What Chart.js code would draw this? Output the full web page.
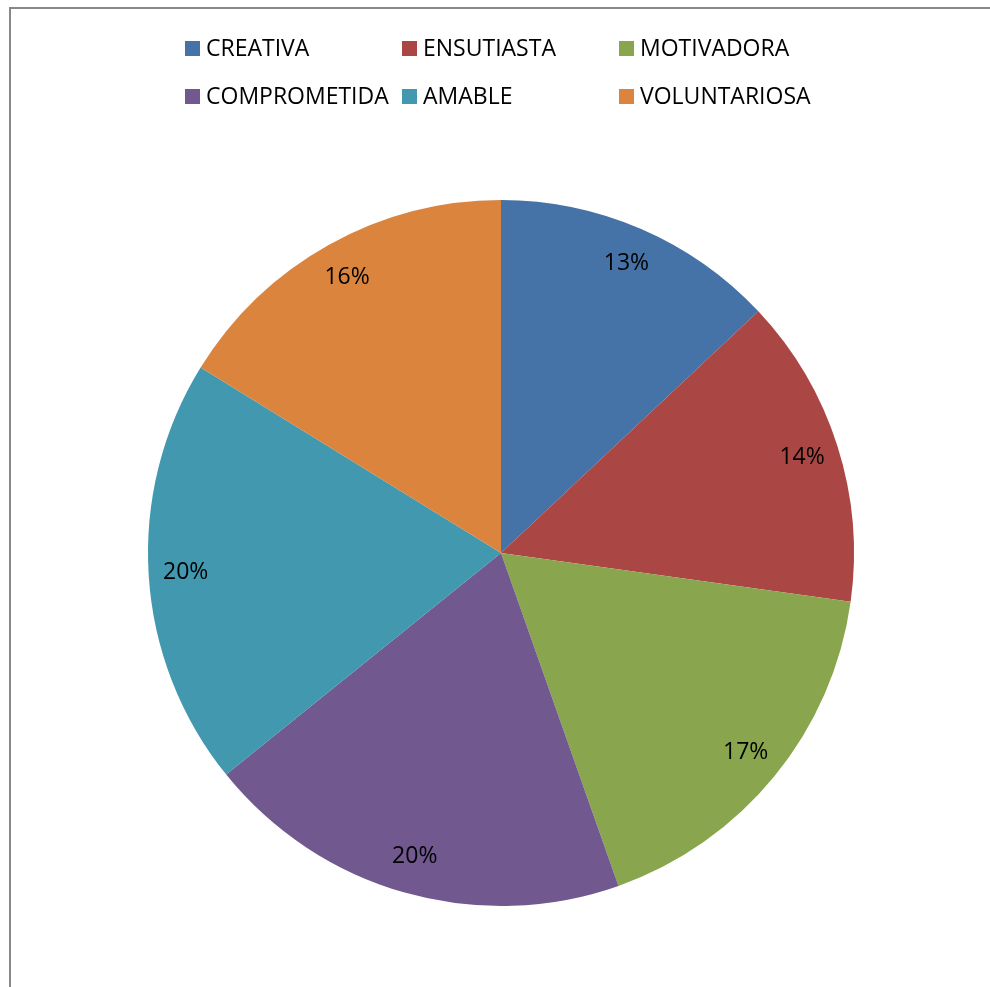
<!DOCTYPE html>
<html>
<head>
<meta charset="utf-8">
<title>Cualidades</title>
<script src="https://cdn.jsdelivr.net/npm/chart.js@4/dist/chart.umd.min.js"></script>
<style>
  html, body { margin: 0; padding: 0; background: #fff; }
  canvas { display: block; }
</style>
</head>
<body>
<canvas id="pie" width="990" height="987"></canvas>
<script>
// categories and their share of answers
const labels = ['CREATIVA', 'ENSUTIASTA', 'MOTIVADORA', 'COMPROMETIDA', 'AMABLE', 'VOLUNTARIOSA'];
const values = [13.0, 14.2, 17.4, 19.6, 19.6, 16.2];
const colors = ['#4572A7', '#AA4643', '#89A54E', '#71588F', '#4198AF', '#DB843D'];

const FONT = '23px "Open Sans", sans-serif';

// white page with the grey frame on the left and top
const frame = {
  id: 'frame',
  beforeDraw(chart) {
    const ctx = chart.ctx;
    ctx.save();
    ctx.fillStyle = '#fff';
    ctx.fillRect(0, 0, chart.width, chart.height);
    ctx.strokeStyle = '#888888';
    ctx.lineWidth = 2;
    ctx.beginPath();
    ctx.moveTo(10, chart.height);
    ctx.lineTo(10, 8);
    ctx.lineTo(chart.width, 8);
    ctx.stroke();
    ctx.restore();
  }
};

// legend in a 3 x 2 grid above the pie
const gridLegend = {
  id: 'gridLegend',
  afterDraw(chart) {
    const ctx = chart.ctx;
    const ds = chart.data.datasets[0];
    ctx.save();
    ctx.font = FONT;
    ctx.textBaseline = 'alphabetic';
    ctx.textAlign = 'left';
    chart.data.labels.forEach((name, i) => {
      const col = i % 3, row = Math.floor(i / 3);
      const x = 185 + col * 217;
      const base = 56 + row * 48;
      ctx.fillStyle = ds.backgroundColor[i];
      ctx.fillRect(x, base - 15, 15, 15);
      ctx.fillStyle = '#000';
      ctx.fillText(name, x + 21, base);
    });
    ctx.restore();
  }
};

// percentage labels near the outer edge of each slice
const pctLabels = {
  id: 'pctLabels',
  afterDatasetsDraw(chart) {
    const ctx = chart.ctx;
    const data = chart.data.datasets[0].data;
    const total = data.reduce((a, b) => a + b, 0);
    const meta = chart.getDatasetMeta(0);
    ctx.save();
    ctx.font = FONT;
    ctx.fillStyle = '#000';
    ctx.textAlign = 'center';
    ctx.textBaseline = 'middle';
    meta.data.forEach((arc, i) => {
      const p = arc.getProps(['x', 'y', 'startAngle', 'endAngle', 'outerRadius'], true);
      const mid = (p.startAngle + p.endAngle) / 2;
      const r = p.outerRadius * 0.895;
      const txt = Math.round(data[i] / total * 100) + '%';
      ctx.fillText(txt, p.x + Math.cos(mid) * r, p.y + Math.sin(mid) * r);
    });
    ctx.restore();
  }
};

new Chart(document.getElementById('pie'), {
  type: 'pie',
  data: {
    labels: labels,
    datasets: [{
      data: values,
      backgroundColor: colors,
      borderWidth: 0
    }]
  },
  options: {
    responsive: false,
    animation: false,
    events: [],
    layout: { padding: { left: 148, right: 136, top: 200, bottom: 81 } },
    plugins: {
      legend: { display: false },
      tooltip: { enabled: false }
    }
  },
  plugins: [frame, pctLabels, gridLegend]
});
</script>
</body>
</html>
